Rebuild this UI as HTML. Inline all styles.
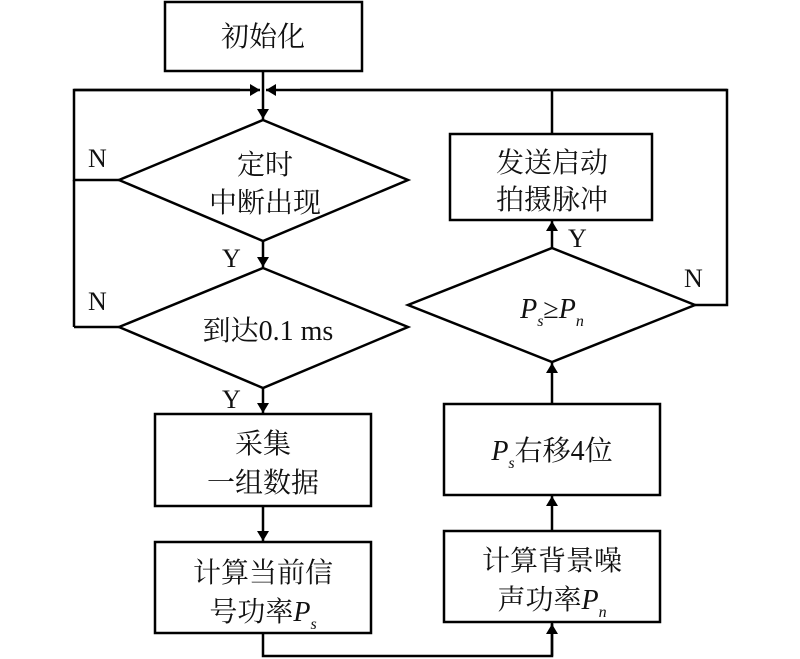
<!DOCTYPE html>
<html><head><meta charset="utf-8"><style>
html,body{margin:0;padding:0;background:#fff;width:800px;height:659px;overflow:hidden}
svg{display:block}
.c{font-family:"Liberation Serif","Noto Serif CJK SC","Noto Sans CJK SC",serif;font-size:28px;fill:#111}
.l{font-family:"Liberation Serif",serif;font-size:26px;fill:#111}
.i{font-style:italic}
</style></head><body>
<svg width="800" height="659" viewBox="0 0 800 659" xmlns="http://www.w3.org/2000/svg">
<defs><marker id="a" markerWidth="10" markerHeight="16" refX="10" refY="8" orient="auto" markerUnits="userSpaceOnUse"><path d="M0,2 L10,8 L0,14 Z" fill="#000"/></marker></defs>
<g fill="none" stroke="#000" stroke-width="2.5">
<rect x="165" y="2" width="197" height="69"/>
<line x1="263" y1="71" x2="263" y2="119" marker-end="url(#a)"/>
<polygon points="263,120 408,180 263,241 119,180"/>
<line x1="263" y1="241" x2="263" y2="267" marker-end="url(#a)"/>
<polygon points="263,268 408,327 263,388 119,327"/>
<line x1="263" y1="388" x2="263" y2="413" marker-end="url(#a)"/>
<rect x="155" y="414" width="216" height="92"/>
<line x1="263" y1="506" x2="263" y2="541" marker-end="url(#a)"/>
<rect x="155" y="542" width="216" height="91"/>
<polyline points="263,633 263,656 552,656 552,623"/>
<line x1="552" y1="656" x2="552" y2="624" marker-end="url(#a)"/>
<rect x="444" y="531" width="216" height="91"/>
<line x1="552" y1="531" x2="552" y2="496" marker-end="url(#a)"/>
<rect x="444" y="404" width="216" height="91"/>
<line x1="552" y1="404" x2="552" y2="363" marker-end="url(#a)"/>
<polygon points="552,248 695,305 552,362 408,305"/>
<line x1="552" y1="248" x2="552" y2="221" marker-end="url(#a)"/>
<rect x="450" y="134" width="202" height="86"/>
<line x1="552" y1="134" x2="552" y2="90"/>
<polyline points="119,180 74,180 74,90 240,90"/>
<line x1="74" y1="327" x2="74" y2="180"/>
<line x1="119" y1="327" x2="74" y2="327"/>
<line x1="74" y1="90" x2="260" y2="90" marker-end="url(#a)"/>
<polyline points="695,305 727,305 727,90 300,90"/>
<line x1="727" y1="90" x2="266" y2="90" marker-end="url(#a)"/>
</g>
<g class="c" text-anchor="middle">
<text x="263" y="46">初始化</text>
<text x="265" y="174">定时</text>
<text x="265" y="212">中断出现</text>
<text x="268" y="340">到达<tspan font-family="Liberation Serif">0.1 ms</tspan></text>
<text x="263" y="453">采集</text>
<text x="263" y="492">一组数据</text>
<text x="263" y="582">计算当前信</text>
<text x="263" y="621">号功率<tspan class="i">P</tspan><tspan class="i" font-size="16" dy="8">s</tspan></text>
<text x="552" y="570">计算背景噪</text>
<text x="552" y="609">声功率<tspan class="i">P</tspan><tspan class="i" font-size="16" dy="8">n</tspan></text>
<text x="552" y="460"><tspan class="i">P</tspan><tspan class="i" font-size="16" dy="8">s</tspan><tspan dy="-8">右移4位</tspan></text>
<text x="552" y="318"><tspan class="i">P</tspan><tspan class="i" font-size="16" dy="8">s</tspan><tspan dy="-8">≥</tspan><tspan class="i">P</tspan><tspan class="i" font-size="16" dy="8">n</tspan></text>
<text x="552" y="172">发送启动</text>
<text x="552" y="209">拍摄脉冲</text>
</g>
<g class="l">
<text x="88" y="167">N</text>
<text x="88" y="310">N</text>
<text x="222" y="267">Y</text>
<text x="222" y="408">Y</text>
<text x="568" y="247">Y</text>
<text x="684" y="287">N</text>
</g>
</svg>
</body></html>
